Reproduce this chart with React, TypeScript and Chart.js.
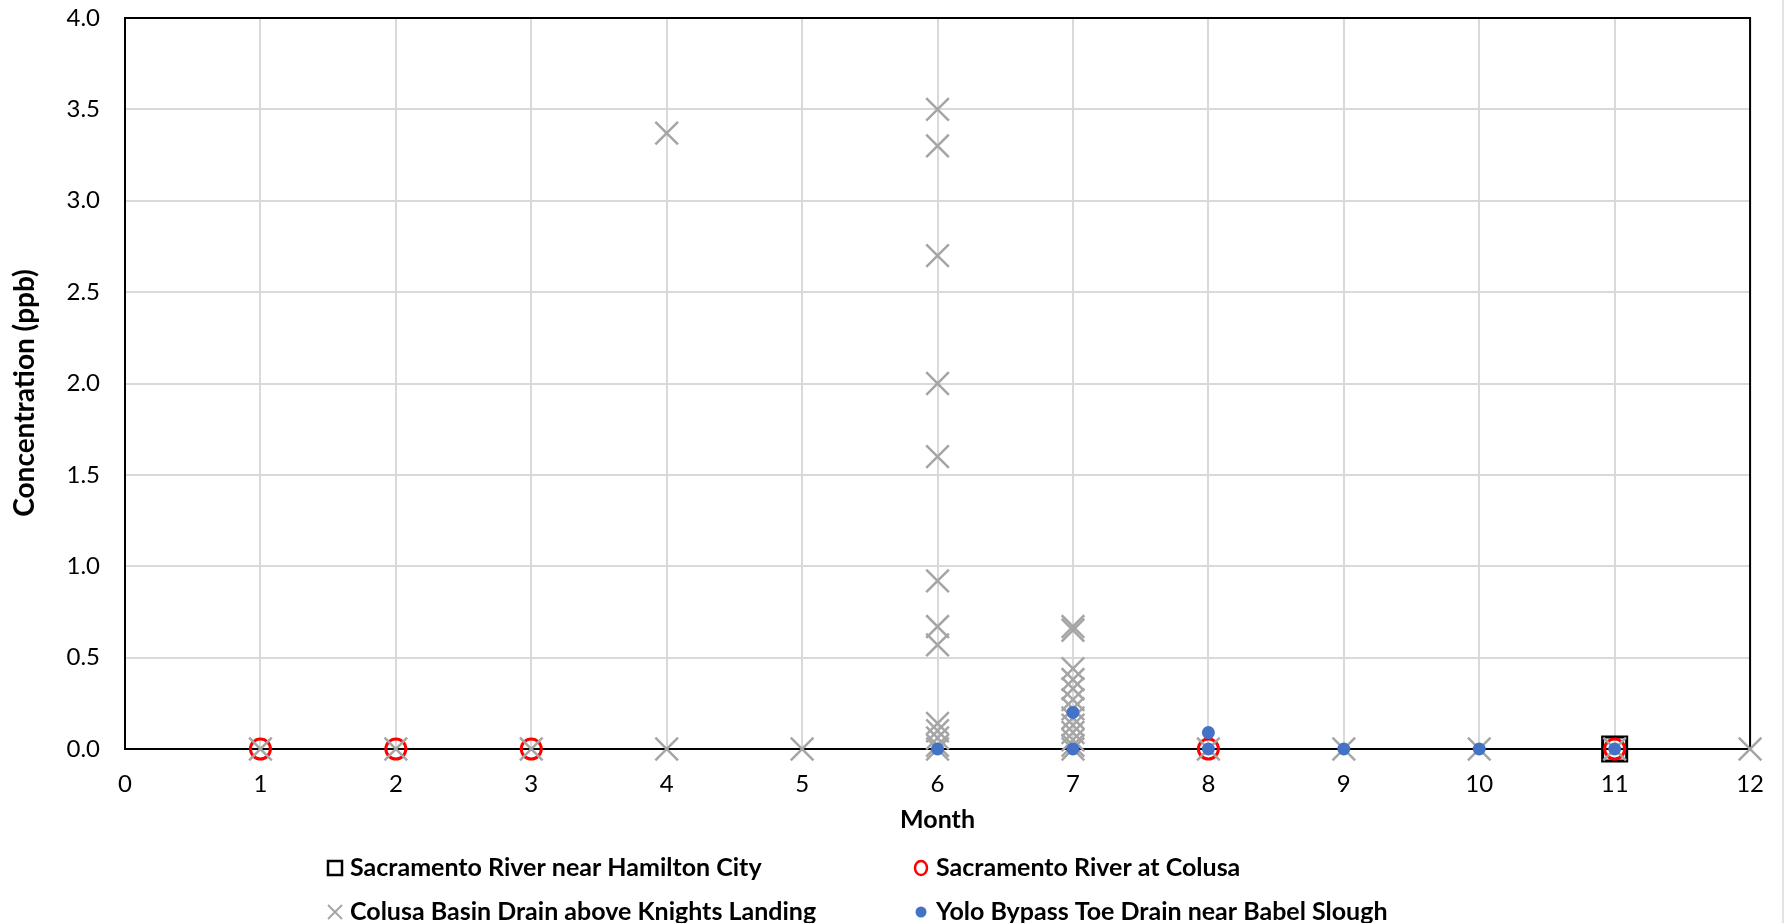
import { useEffect, useRef } from "react";
import { Chart, registerables } from "chart.js";

Chart.register(...registerables);

const FONT = "Lato";

const seriesNames = [
  "Sacramento River near Hamilton City",
  "Sacramento River at Colusa",
  "Colusa Basin Drain above Knights Landing",
  "Yolo Bypass Toe Drain near Babel Slough",
];

const hamiltonMonths = [11];
const hamiltonValues = [0];

const colusaMonths = [1, 2, 3, 8, 11];
const colusaValues = [0, 0, 0, 0, 0];

const drainMonths = [
  1, 2, 3, 4, 4, 5,
  6, 6, 6, 6, 6, 6, 6, 6, 6, 6, 6, 6, 6,
  7, 7, 7, 7, 7, 7, 7, 7, 7, 7, 7, 7, 7,
  8, 9, 10, 11, 12,
];
const drainValues = [
  0, 0, 0, 3.37, 0, 0,
  3.5, 3.3, 2.7, 2.0, 1.6, 0.92, 0.67, 0.57, 0.14, 0.1, 0.06, 0.02, 0,
  0.67, 0.65, 0.44, 0.38, 0.33, 0.27, 0.22, 0.17, 0.13, 0.09, 0.05, 0.02, 0,
  0, 0, 0, 0, 0,
];

const yoloMonths = [6, 7, 7, 8, 8, 9, 10, 11];
const yoloValues = [0, 0.2, 0, 0.09, 0, 0, 0, 0];

const xTitle = "Month";
const yTitle = "Concentration (ppb)";

const pts = (xs: number[], ys: number[]) => xs.map((x, i) => ({ x, y: ys[i] }));

const extrasPlugin = {
  id: "extras",
  beforeDatasetsDraw(chart: any) {
    const { ctx, chartArea } = chart;
    ctx.save();
    ctx.strokeStyle = "#000000";
    ctx.lineWidth = 2;
    ctx.beginPath();
    ctx.moveTo(chartArea.left, chartArea.top);
    ctx.lineTo(chartArea.right, chartArea.top);
    ctx.lineTo(chartArea.right, chartArea.bottom);
    ctx.stroke();
    ctx.restore();
  },
  afterDraw(chart: any) {
    const { ctx, chartArea } = chart;
    ctx.save();
    ctx.strokeStyle = "#D9D9D9";
    ctx.lineWidth = 1.5;
    ctx.beginPath();
    ctx.moveTo(1783, 0);
    ctx.lineTo(1783, 923);
    ctx.stroke();

    ctx.fillStyle = "#000000";
    ctx.font = `bold 25px ${FONT}`;
    ctx.textAlign = "center";
    ctx.textBaseline = "middle";
    ctx.fillText(xTitle, (chartArea.left + chartArea.right) / 2, 820);

    ctx.save();
    ctx.font = `bold 28px ${FONT}`;
    ctx.translate(25, 393);
    ctx.rotate(-Math.PI / 2);
    ctx.fillText(yTitle, 0, 0);
    ctx.restore();

    const items = [
      { x: 335, y: 868, kind: "rect" },
      { x: 921, y: 868, kind: "circle" },
      { x: 335, y: 912, kind: "cross" },
      { x: 921, y: 912, kind: "dot" },
    ];
    items.forEach((it, i) => {
      ctx.save();
      if (it.kind === "rect") {
        ctx.strokeStyle = "#000000";
        ctx.lineWidth = 2.5;
        ctx.strokeRect(it.x - 7, it.y - 7, 14, 14);
      } else if (it.kind === "circle") {
        ctx.strokeStyle = "#FF0000";
        ctx.lineWidth = 2.5;
        ctx.beginPath();
        ctx.ellipse(it.x, it.y, 6, 7, 0, 0, Math.PI * 2);
        ctx.stroke();
      } else if (it.kind === "cross") {
        ctx.strokeStyle = "#A5A5A5";
        ctx.lineWidth = 2;
        ctx.beginPath();
        ctx.moveTo(it.x - 7, it.y - 7);
        ctx.lineTo(it.x + 7, it.y + 7);
        ctx.moveTo(it.x + 7, it.y - 7);
        ctx.lineTo(it.x - 7, it.y + 7);
        ctx.stroke();
      } else {
        ctx.fillStyle = "#4472C4";
        ctx.beginPath();
        ctx.arc(it.x, it.y, 5.5, 0, Math.PI * 2);
        ctx.fill();
      }
      ctx.restore();
      ctx.fillStyle = "#000000";
      ctx.font = `bold 25px ${FONT}`;
      ctx.textAlign = "left";
      ctx.textBaseline = "middle";
      ctx.fillText(seriesNames[i], it.x + 15, it.y);
    });
    ctx.restore();
  },
};

export default function App() {
  const ref = useRef<HTMLCanvasElement | null>(null);

  useEffect(() => {
    document.body.style.margin = "0";
    const canvas = ref.current!;
    const chart = new Chart(canvas, {
      type: "scatter",
      data: {
        datasets: [
          {
            label: seriesNames[0],
            data: pts(hamiltonMonths, hamiltonValues),
            pointStyle: "rect",
            pointRadius: 17,
            pointBorderWidth: 3,
            borderColor: "#000000",
            backgroundColor: "rgba(0,0,0,0)",
            order: 4,
            clip: false,
          },
          {
            label: seriesNames[1],
            data: pts(colusaMonths, colusaValues),
            pointStyle: "circle",
            pointRadius: 10,
            pointBorderWidth: 3,
            borderColor: "#FF0000",
            backgroundColor: "rgba(0,0,0,0)",
            order: 3,
            clip: false,
          },
          {
            label: seriesNames[2],
            data: pts(drainMonths, drainValues),
            pointStyle: "crossRot",
            pointRadius: 16,
            pointBorderWidth: 2.5,
            borderColor: "#A5A5A5",
            backgroundColor: "#A5A5A5",
            order: 2,
            clip: false,
          },
          {
            label: seriesNames[3],
            data: pts(yoloMonths, yoloValues),
            pointStyle: "circle",
            pointRadius: 6.5,
            pointBorderWidth: 0,
            borderColor: "#4472C4",
            backgroundColor: "#4472C4",
            order: 1,
            clip: false,
          },
        ],
      },
      options: {
        animation: false,
        responsive: false,
        devicePixelRatio: 1,
        layout: { autoPadding: false, padding: { left: 0, top: 18, right: 30, bottom: 74 } },
        plugins: {
          legend: { display: false },
          tooltip: { enabled: false },
          title: { display: false },
        },
        scales: {
          x: {
            type: "linear",
            min: 0,
            max: 12,
            afterFit: (s: any) => {
              s.height = 100;
            },
            ticks: {
              stepSize: 1,
              padding: 21,
              color: "#000000",
              font: { family: FONT, size: 24 },
            },
            grid: { color: "#D9D9D9", lineWidth: 2, drawTicks: false },
            border: { color: "#000000", width: 2 },
            title: { display: false },
          },
          y: {
            type: "linear",
            min: 0,
            max: 4,
            afterFit: (s: any) => {
              s.width = 125;
              s.paddingTop = 0;
              s.paddingBottom = 0;
            },
            ticks: {
              stepSize: 0.5,
              padding: 25,
              color: "#000000",
              font: { family: FONT, size: 24 },
              callback: (v: any) => Number(v).toFixed(1),
            },
            grid: { color: "#D9D9D9", lineWidth: 2, drawTicks: false },
            border: { color: "#000000", width: 2 },
            title: { display: false },
          },
        },
      },
      plugins: [extrasPlugin],
    });
    return () => chart.destroy();
  }, []);

  return (
    <canvas
      ref={ref}
      width={1785}
      height={923}
      style={{ display: "block", width: "1785px", height: "923px" }}
    />
  );
}
